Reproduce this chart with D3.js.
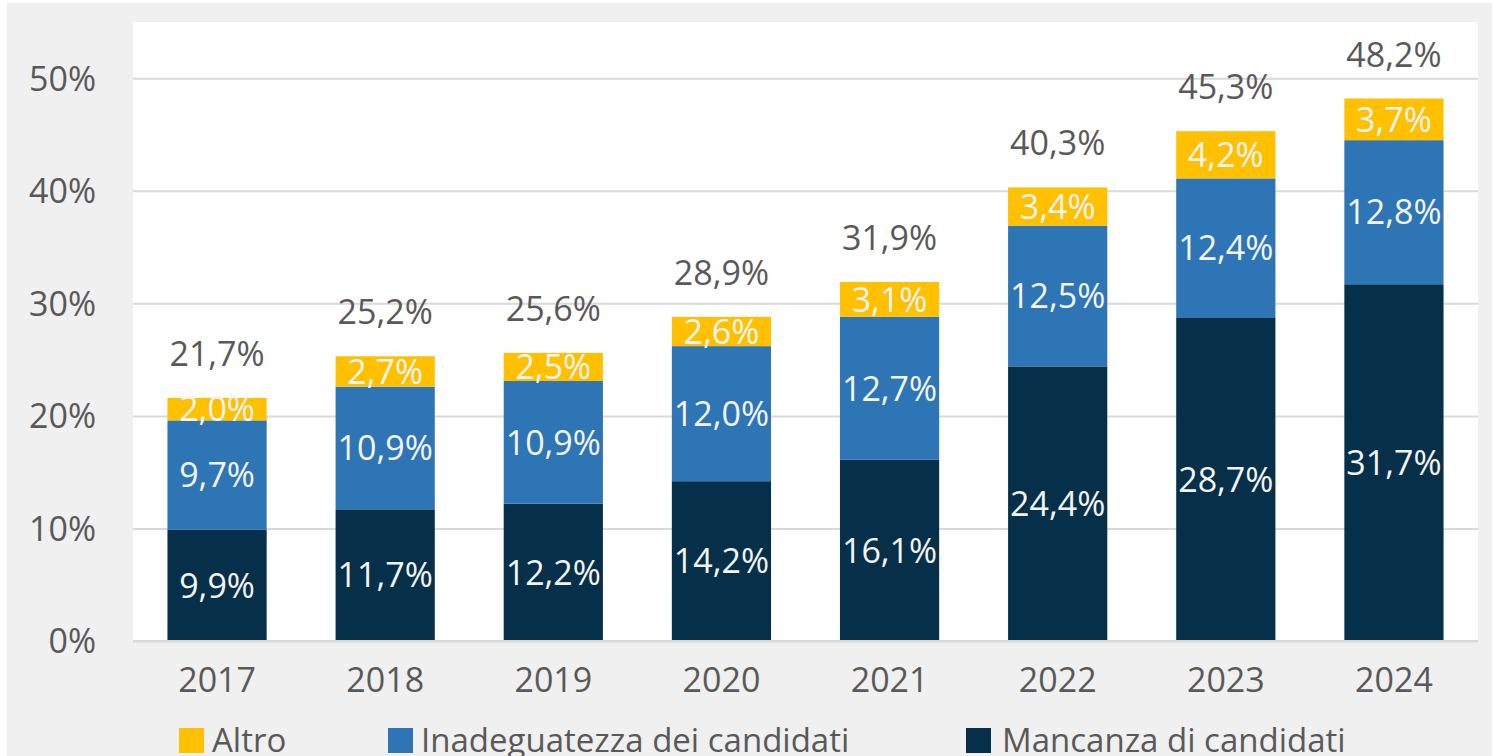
<!DOCTYPE html>
<html>
<head>
<meta charset="utf-8">
<script src="https://cdn.jsdelivr.net/npm/d3@7/dist/d3.min.js"></script>
<style>
  html, body { margin: 0; padding: 0; background: #ffffff; }
  svg { display: block; font-family: "Open Sans", "Noto Sans", sans-serif; }
</style>
</head>
<body>
<svg id="chart" width="1493" height="756"></svg>
<script>
const years = ["2017", "2018", "2019", "2020", "2021", "2022", "2023", "2024"];
const mancanza = [9.9, 11.7, 12.2, 14.2, 16.1, 24.4, 28.7, 31.7];
const inadeguatezza = [9.7, 10.9, 10.9, 12.0, 12.7, 12.5, 12.4, 12.8];
const altro = [2.0, 2.7, 2.5, 2.6, 3.1, 3.4, 4.2, 3.7];
const totals = [21.7, 25.2, 25.6, 28.9, 31.9, 40.3, 45.3, 48.2];
const yTicks = [0, 10, 20, 30, 40, 50];
const seriesNames = ["Mancanza di candidati", "Inadeguatezza dei candidati", "Altro"];
const legendOrder = ["Altro", "Inadeguatezza dei candidati", "Mancanza di candidati"];
const colors = { "Mancanza di candidati": "#063049", "Inadeguatezza dei candidati": "#2E75B6", "Altro": "#FFC000" };

const fmt = v => v.toFixed(1).replace(".", ",") + "%";

const svg = d3.select("#chart");
const W = 1493, H = 756;
const plot = { left: 133, right: 1478, top: 22, bottom: 641 };

// outer gray panel
svg.append("rect").attr("x", 7).attr("y", 3).attr("width", 1485).attr("height", H - 3).attr("fill", "#f0f0f0");
// plot area
svg.append("rect").attr("x", plot.left).attr("y", plot.top)
  .attr("width", plot.right - plot.left).attr("height", plot.bottom - plot.top + 1).attr("fill", "#ffffff");

const x = d3.scaleBand().domain(years).range([plot.left, plot.right]).paddingInner(0.41).paddingOuter(0.205);
const y = d3.scaleLinear().domain([0, 55]).range([plot.bottom, plot.top]);

// gridlines
const grid = svg.append("g").attr("transform", `translate(${plot.left},0)`)
  .call(d3.axisLeft(y).tickValues(yTicks).tickSize(-(plot.right - plot.left)).tickFormat(""));
grid.select(".domain").remove();
grid.selectAll(".tick line").attr("stroke", "#d9d9d9").attr("stroke-width", 2);

// y labels
const yAxis = svg.append("g").attr("transform", `translate(96,0)`)
  .call(d3.axisLeft(y).tickValues(yTicks).tickSize(0).tickFormat(d => d + "%"));
yAxis.select(".domain").remove();
yAxis.selectAll("text").attr("font-size", 34).attr("fill", "#595959")
  .attr("font-family", "'Open Sans', sans-serif").attr("x", 0).attr("dy", "0.35em");

// stacked data
const table = years.map((yr, i) => ({
  year: yr,
  "Mancanza di candidati": mancanza[i],
  "Inadeguatezza dei candidati": inadeguatezza[i],
  "Altro": altro[i],
  total: totals[i]
}));
const stack = d3.stack().keys(seriesNames)(table);

const layers = svg.append("g").selectAll("g").data(stack).join("g")
  .attr("fill", d => colors[d.key]);
layers.selectAll("rect").data(d => d).join("rect")
  .attr("x", d => x(d.data.year))
  .attr("width", x.bandwidth())
  .attr("y", d => y(d[1]))
  .attr("height", d => y(d[0]) - y(d[1]));

// segment labels
const labels = svg.append("g");
stack.forEach(layer => {
  labels.selectAll(null).data(layer).join("text")
    .attr("x", d => x(d.data.year) + x.bandwidth() / 2)
    .attr("y", d => (y(d[0]) + y(d[1])) / 2)
    .attr("dy", "0.36em")
    .attr("text-anchor", "middle")
    .attr("font-size", 34)
    .attr("fill", "#f4f4f4")
    .text(d => fmt(d.data[layer.key]));
});

// axis line
svg.append("line").attr("x1", plot.left).attr("x2", plot.right)
  .attr("y1", y(0)).attr("y2", y(0)).attr("stroke", "#d9d9d9").attr("stroke-width", 2);

// totals
svg.append("g").selectAll("text").data(table).join("text")
  .attr("x", d => x(d.year) + x.bandwidth() / 2)
  .attr("y", (d, i) => y(mancanza[i] + inadeguatezza[i] + altro[i]) - 32)
  .attr("text-anchor", "middle")
  .attr("font-size", 34)
  .attr("fill", "#595959")
  .text(d => fmt(d.total));

// x axis labels
const xAxis = svg.append("g").attr("transform", `translate(0,${plot.bottom})`)
  .call(d3.axisBottom(x).tickSize(0));
xAxis.select(".domain").remove();
xAxis.selectAll("text").attr("font-size", 34).attr("fill", "#595959")
  .attr("font-family", "'Open Sans', sans-serif").attr("dy", 0).attr("y", 51);

// legend
const legendX = [179, 388, 966];
const lg = svg.append("g").selectAll("g").data(legendOrder).join("g")
  .attr("transform", (d, i) => `translate(${legendX[i]},728)`);
lg.append("rect").attr("width", 25).attr("height", 25).attr("fill", d => colors[d]);
lg.append("text").attr("x", (d, i) => i === 2 ? 36 : 33).attr("y", 24).attr("font-size", 33).attr("fill", "#595959").text(d => d);
</script>
</body>
</html>
